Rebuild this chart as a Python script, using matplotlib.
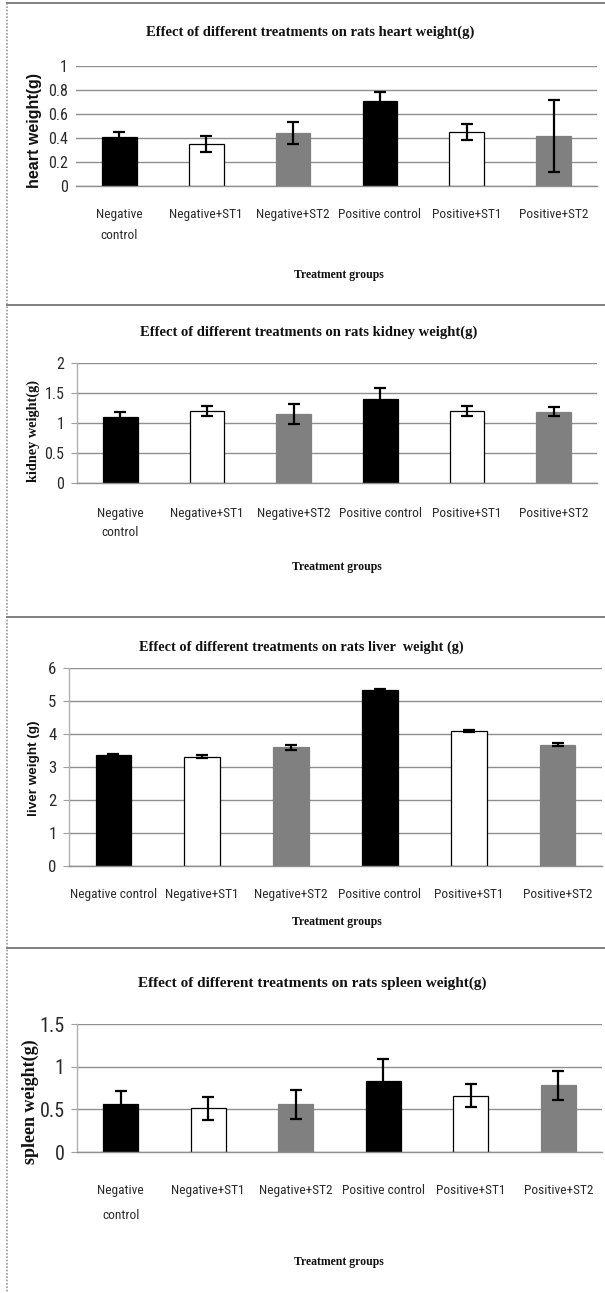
import matplotlib
matplotlib.use("Agg")
import matplotlib.pyplot as plt
from matplotlib.lines import Line2D
from matplotlib import font_manager

W, H = 605, 1293

categories = ['Negative\ncontrol', 'Negative+ST1', 'Negative+ST2',
              'Positive control', 'Positive+ST1', 'Positive+ST2']
categories_liver = ['Negative control', 'Negative+ST1', 'Negative+ST2',
                    'Positive control', 'Positive+ST1', 'Positive+ST2']
bar_colors = ['black', 'white', '#808080', 'black', 'white', '#808080']
edge_colors = ['black', 'black', '#808080', 'black', 'black', '#808080']

heart = [0.41, 0.35, 0.44, 0.71, 0.45, 0.42]
heart_err = [0.04, 0.07, 0.09, 0.075, 0.07, 0.30]
heart_ticks = [0, 0.2, 0.4, 0.6, 0.8, 1]
heart_ticklabels = ['0', '0.2', '0.4', '0.6', '0.8', '1']

kidney = [1.10, 1.20, 1.15, 1.40, 1.20, 1.19]
kidney_err = [0.08, 0.08, 0.17, 0.19, 0.08, 0.08]
kidney_ticks = [0, 0.5, 1, 1.5, 2]
kidney_ticklabels = ['0', '0.5', '1', '1.5', '2']

liver = [3.36, 3.31, 3.60, 5.32, 4.10, 3.68]
liver_err = [0.04, 0.05, 0.07, 0.04, 0.03, 0.05]
liver_ticks = [0, 1, 2, 3, 4, 5, 6]
liver_ticklabels = ['0', '1', '2', '3', '4', '5', '6']

spleen = [0.56, 0.51, 0.56, 0.83, 0.66, 0.78]
spleen_err = [0.16, 0.13, 0.17, 0.26, 0.135, 0.175]
spleen_ticks = [0, 0.5, 1, 1.5]
spleen_ticklabels = ['0', '0.5', '1', '1.5']

titles = ['Effect of different treatments on rats heart weight(g)',
          'Effect of different treatments on rats kidney weight(g)',
          'Effect of different treatments on rats liver  weight (g)',
          'Effect of different treatments on rats spleen weight(g)']
ylabels = ['heart weight(g)', 'kidney weight(g)', 'liver weight (g)', 'spleen weight(g)']
xlabel = 'Treatment groups'

# pick a narrow sans font for category labels if one is installed
_names = {f.name for f in font_manager.fontManager.ttflist}
if 'Roboto Condensed' in _names:
    XFAM, XSCALE = ['Roboto Condensed', 'Liberation Sans'], 1.15
elif 'Liberation Sans Narrow' in _names:
    XFAM, XSCALE = ['Liberation Sans Narrow', 'Liberation Sans'], 1.18
else:
    XFAM, XSCALE = ['Liberation Sans', 'DejaVu Sans'], 1.0

SANS = ['Liberation Sans', 'DejaVu Sans']
SERIF = ['Liberation Serif', 'DejaVu Serif']

fig = plt.figure(figsize=(W / 100, H / 100), dpi=100)
fig.patch.set_facecolor('white')


def fx(px):
    return px / W


def fy(py):
    return 1 - py / H


def add_axes(x0, x1, y0, y1):
    return fig.add_axes([fx(x0), fy(y1), fx(x1) - fx(x0), (y1 - y0) / H])


panels = [
    dict(v=heart, e=heart_err, t=heart_ticks, tl=heart_ticklabels, ylim=1,
         box=(76, 597, 66, 186), cats=categories, xpad=16, line_px=22, spine=False,
         ytick_fs=10,
         title_xy=(310, 32), title_fs=10.5, xl_xy=(339, 275), xl_fs=8.5,
         yl_xy=(35, 131), yl_fs=11.5, yl_family=SANS),
    dict(v=kidney, e=kidney_err, t=kidney_ticks, tl=kidney_ticklabels, ylim=2,
         box=(77, 597, 363, 483), cats=categories, xpad=17, line_px=20, spine=True,
         ytick_fs=10,
         title_xy=(309, 332), title_fs=10.5, xl_xy=(337, 567), xl_fs=8.5,
         yl_xy=(33, 431), yl_fs=10.3, yl_family=SERIF),
    dict(v=liver, e=liver_err, t=liver_ticks, tl=liver_ticklabels, ylim=6,
         box=(69, 602, 668, 866), cats=categories_liver, xpad=16, line_px=20, spine=True,
         ytick_fs=10.5,
         title_xy=(301.5, 647), title_fs=10.3, xl_xy=(337, 922), xl_fs=8.5,
         yl_xy=(33.5, 768), yl_fs=9.7, yl_family=SANS),
    dict(v=spleen, e=spleen_err, t=spleen_ticks, tl=spleen_ticklabels, ylim=1.5,
         box=(77, 602, 1024, 1152), cats=categories, xpad=23, line_px=28, spine=True,
         ytick_fs=12.5,
         title_xy=(312, 983), title_fs=11, xl_xy=(339, 1262), xl_fs=8.5,
         yl_xy=(30, 1102), yl_fs=13, yl_family=SERIF),
]

XTICK_FS = 8.4 * XSCALE

for i, p in enumerate(panels):
    ax = add_axes(*p['box'])
    x = list(range(len(p['v'])))
    ax.bar(x, p['v'], width=0.4, color=bar_colors, edgecolor=edge_colors,
           linewidth=0.9, zorder=2)
    ax.errorbar(x, p['v'], yerr=p['e'], fmt='none', ecolor='black', elinewidth=1.6,
                capsize=4, capthick=1.6, zorder=3)
    ax.set_xlim(-0.5, 5.5)
    ax.set_ylim(0, p['ylim'])
    ax.set_yticks(p['t'])
    ax.set_yticklabels(p['tl'], family=XFAM, fontsize=p['ytick_fs'] * (XSCALE if XSCALE > 1 else 1),
                       color='#2a2a2a')
    ax.set_xticks(x)
    ax.set_xticklabels(p['cats'], family=XFAM, fontsize=XTICK_FS, color='#2a2a2a')
    ls = p['line_px'] / (0.93 * XTICK_FS * 100 / 72)
    for lbl in ax.get_xticklabels():
        lbl.set_linespacing(ls)
    ax.tick_params(axis='x', length=0, pad=p['xpad'])
    if p['spine']:
        ax.tick_params(axis='y', length=4, width=0.8, color='#a0a0a0', pad=5)
    else:
        ax.tick_params(axis='y', length=0, pad=6)
    ax.yaxis.grid(True, color='#8f8f8f', linewidth=1.0, zorder=0)
    ax.set_axisbelow(True)
    for s in ['top', 'right']:
        ax.spines[s].set_visible(False)
    ax.spines['bottom'].set_color('#8f8f8f')
    ax.spines['bottom'].set_linewidth(1.0)
    ax.spines['left'].set_visible(p['spine'])
    ax.spines['left'].set_color('#b0b0b0')
    ax.spines['left'].set_linewidth(1.0)
    ax.set_facecolor('none')

    fig.text(fx(p['title_xy'][0]), fy(p['title_xy'][1]), titles[i], ha='center', va='center',
             family=SERIF, fontweight='bold', fontsize=p['title_fs'], color='#111111')
    fig.text(fx(p['xl_xy'][0]), fy(p['xl_xy'][1]), xlabel, ha='center', va='center',
             family=SERIF, fontweight='bold', fontsize=p['xl_fs'], color='#111111')
    fig.text(fx(p['yl_xy'][0]), fy(p['yl_xy'][1]), ylabels[i], ha='center', va='center',
             rotation=90, family=p['yl_family'], fontweight='bold', fontsize=p['yl_fs'],
             color='#111111')

# panel frame lines
fig.add_artist(Line2D([fx(7), fx(7)], [fy(3), fy(H)], color='#9a9a9a', linewidth=1.2,
                      linestyle=(0, (1, 1))))
for yy in [3, 305, 617, 948]:
    fig.add_artist(Line2D([fx(7), fx(W)], [fy(yy), fy(yy)], color='#808080', linewidth=1.4))

fig.savefig('out.png', dpi=100, facecolor='white')
